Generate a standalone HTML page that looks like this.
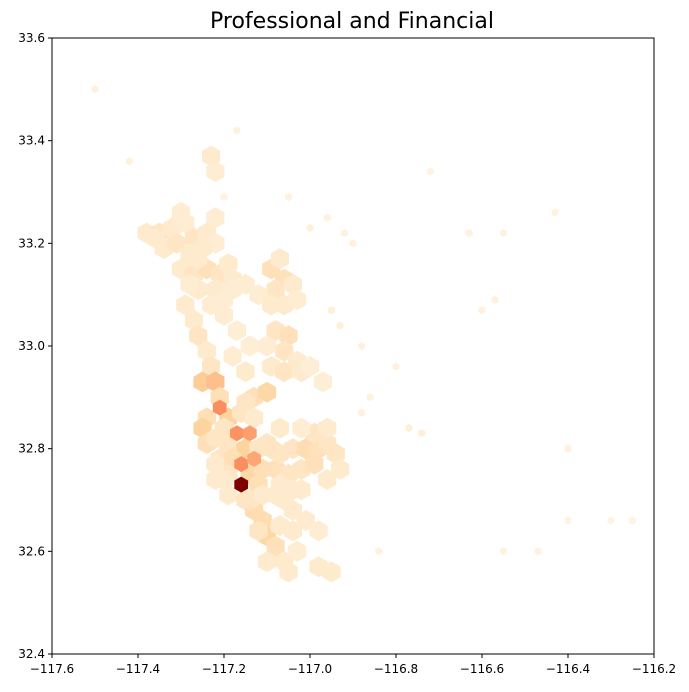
<!DOCTYPE html>
<html><head><meta charset="utf-8"><style>
body{margin:0;background:#fff;font-family:"Liberation Sans","DejaVu Sans",sans-serif}
svg text{font-family:"DejaVu Sans","Liberation Sans",sans-serif}
</style></head><body>
<svg id="chart" width="689" height="687" xmlns="http://www.w3.org/2000/svg">
<text x="352" y="28" font-size="22" text-anchor="middle">Professional and Financial</text>
<g id="hexes"></g>
<rect x="52" y="38" width="602" height="616" fill="none" stroke="#000" stroke-width="1"/>
<g id="axes"></g>
</svg>
<script>
const lons=[-117.38,-117.35,-117.32,-117.29,-117.27,-117.24,-117.22,-117.34,-117.31,-117.28,-117.25,-117.3,-117.22,
-117.3,-117.27,-117.24,-117.21,-117.18,-117.15,-117.26,-117.22,
-117.09,-117.06,-117.08,-117.04,-117.07,
-117.29,-117.27,-117.26,-117.24,-117.23,-117.25,-117.22,-117.21,-117.21,-117.19,-117.24,
-117.2,-117.17,-117.14,-117.18,-117.15,
-117.08,-117.05,-117.06,-117.03,-117.09,-117.06,-117.02,-117.13,-117.1,-117.15,
-117.16,-117.13,
-117.25,-117.24,-117.22,-117.19,-117.17,-117.14,-117.15,-117.21,-117.18,-117.16,-117.13,-117.19,-117.14,-117.11,-117.22,-117.16,-117.12,-117.19,-117.15,
-117.08,-117.05,-117.02,-116.99,-117.07,-117.04,-117.01,-116.98,-116.96,-116.99,-116.96,-116.94,-116.93,-116.96,-117.1,-117.07,-117.02,
-117.13,-117.11,-117.1,-117.08,-117.07,-117.04,-117.04,-117.01,-116.98,-117.06,-117.03,-117.1,-117.05,-116.98,-116.95,-117.08,-117.04,
-117.36,-117.26,-117.19,-117.28,-117.23,-117.2,-117.18,-117.12,-117.09,-117.06,-117.03,-117.1,-117.0,-116.97,-117.2,-117.12,-117.09,-117.14,-117.07,-117.11,-117.02,-117.06,-117.12,-117.22,-117.2,
-117.5,-117.42,-117.23,-117.22,-117.17,-117.2,-117.0,-116.96,-116.9,-116.92,-117.05,-116.95,-116.93,-116.88,-116.72,-116.63,-116.55,-116.57,-116.6,-116.43,-116.86,-116.8,-116.74,-116.77,-116.84,-116.55,-116.47,-116.4,-116.3,-116.25,-116.4,-116.88];
const lats=[33.22,33.22,33.23,33.24,33.21,33.22,33.2,33.19,33.2,33.18,33.19,33.26,33.25,
33.15,33.14,33.15,33.14,33.13,33.12,33.11,33.11,
33.15,33.13,33.11,33.12,33.17,
33.08,33.05,33.02,32.99,32.96,32.93,32.93,32.9,32.88,32.86,32.86,
33.06,33.03,33.0,32.98,32.95,
33.03,33.02,32.99,32.97,32.96,32.95,32.95,32.9,32.91,32.89,
32.87,32.86,
32.84,32.81,32.82,32.81,32.83,32.83,32.8,32.78,32.78,32.77,32.78,32.75,32.75,32.76,32.74,32.73,32.73,32.71,32.7,
32.76,32.75,32.76,32.77,32.79,32.8,32.8,32.8,32.81,32.83,32.84,32.79,32.76,32.74,32.81,32.84,32.84,
32.68,32.66,32.63,32.61,32.65,32.64,32.68,32.66,32.64,32.58,32.6,32.58,32.56,32.57,32.56,32.71,32.72,
33.21,33.17,33.16,33.12,33.08,33.09,33.11,33.1,33.08,33.08,33.09,33.0,32.96,32.93,32.84,32.8,32.8,32.7,32.73,32.71,32.72,32.7,32.64,32.77,32.74,
33.5,33.36,33.37,33.34,33.42,33.29,33.23,33.25,33.2,33.22,33.29,33.07,33.04,33.0,33.34,33.22,33.22,33.09,33.07,33.26,32.9,32.96,32.83,32.84,32.6,32.6,32.6,32.66,32.66,32.66,32.8,32.87];
const vals=[.1,.12,.1,.08,.12,.1,.08,.1,.12,.1,.1,.08,.08,
.1,.12,.14,.12,.1,.08,.1,.1,
.14,.14,.12,.1,.1,
.1,.1,.12,.1,.12,.22,.26,.15,.42,.2,.15,
.08,.07,.07,.08,.1,
.12,.14,.12,.1,.1,.12,.1,.14,.18,.12,
.12,.1,
.2,.15,.12,.12,.4,.36,.2,.12,.15,.42,.34,.12,.18,.15,.1,1.0,.15,.1,.12,
.14,.12,.12,.14,.12,.12,.16,.14,.12,.12,.1,.12,.1,.1,.12,.1,.08,
.16,.16,.18,.14,.1,.1,.1,.1,.08,.1,.08,.1,.1,.1,.1,.1,.1,
.1,.1,.1,.08,.08,.08,.08,.08,.1,.1,.08,.08,.07,.07,.12,.12,.12,.12,.1,.1,.1,.1,.12,.1,.1,
.05,.05,.1,.08,.05,.05,.06,.05,.05,.05,.05,.06,.06,.05,.04,.05,.05,.05,.05,.05,.05,.05,.06,.06,.05,.05,.05,.04,.04,.04,.05,.05];
const xTicks=[-117.6,-117.4,-117.2,-117.0,-116.8,-116.6,-116.4,-116.2];
const yTicks=[32.4,32.6,32.8,33.0,33.2,33.4,33.6];
const X=v=>52+(v+117.6)/1.4*602;
const Y=v=>654-(v-32.4)/1.2*616;
const stops=[[0,[255,247,236]],[.1,[254,234,205]],[.2,[253,212,158]],[.4,[252,146,98]],[.6,[239,101,72]],[.8,[215,48,31]],[1,[127,0,0]]];
function col(v){for(let i=1;i<stops.length;i++){if(v<=stops[i][0]){const a=stops[i-1],b=stops[i],t=(v-a[0])/(b[0]-a[0]);return 'rgb('+a[1].map((c,k)=>Math.round(c+(b[1][k]-c)*t)).join(',')+')';}}return 'rgb(127,0,0)';}
const NS='http://www.w3.org/2000/svg';
const g=document.getElementById('hexes');
for(let i=0;i<lons.length;i++){
 const cx=X(lons[i]),cy=Y(lats[i]),r=vals[i]<=.06?4:(vals[i]>=.3?8:10.5);
 let pts=[];for(let k=0;k<6;k++){const a=Math.PI/3*k+Math.PI/6;pts.push((cx+r*Math.cos(a)).toFixed(1)+','+(cy+r*Math.sin(a)).toFixed(1));}
 const p=document.createElementNS(NS,'polygon');
 p.setAttribute('points',pts.join(' '));p.setAttribute('fill',col(vals[i]));
 
 
 if(vals[i]>=.3)p.setAttribute('data-hi','1');
 g.appendChild(p);
}
Array.from(g.querySelectorAll('[data-hi]')).forEach(p=>g.appendChild(p));
const ax=document.getElementById('axes');
xTicks.forEach(t=>{const x=X(t);
 const l=document.createElementNS(NS,'line');l.setAttribute('x1',x);l.setAttribute('x2',x);l.setAttribute('y1',654);l.setAttribute('y2',658);l.setAttribute('stroke','#000');
 
 
 ax.appendChild(l);
 const s=document.createElementNS(NS,'text');s.setAttribute('x',x);s.setAttribute('y',673);s.setAttribute('font-size','12');s.setAttribute('text-anchor','middle');s.textContent='\u2212'+Math.abs(t).toFixed(1);
 
 
 ax.appendChild(s);});
yTicks.forEach(t=>{const y=Y(t);
 const l=document.createElementNS(NS,'line');l.setAttribute('x1',48);l.setAttribute('x2',52);l.setAttribute('y1',y);l.setAttribute('y2',y);l.setAttribute('stroke','#000');
 
 
 ax.appendChild(l);
 const s=document.createElementNS(NS,'text');s.setAttribute('x',45);s.setAttribute('y',y+4);s.setAttribute('font-size','12');s.setAttribute('text-anchor','end');s.textContent=t.toFixed(1);
 
 
 ax.appendChild(s);});
</script>
</body></html>
